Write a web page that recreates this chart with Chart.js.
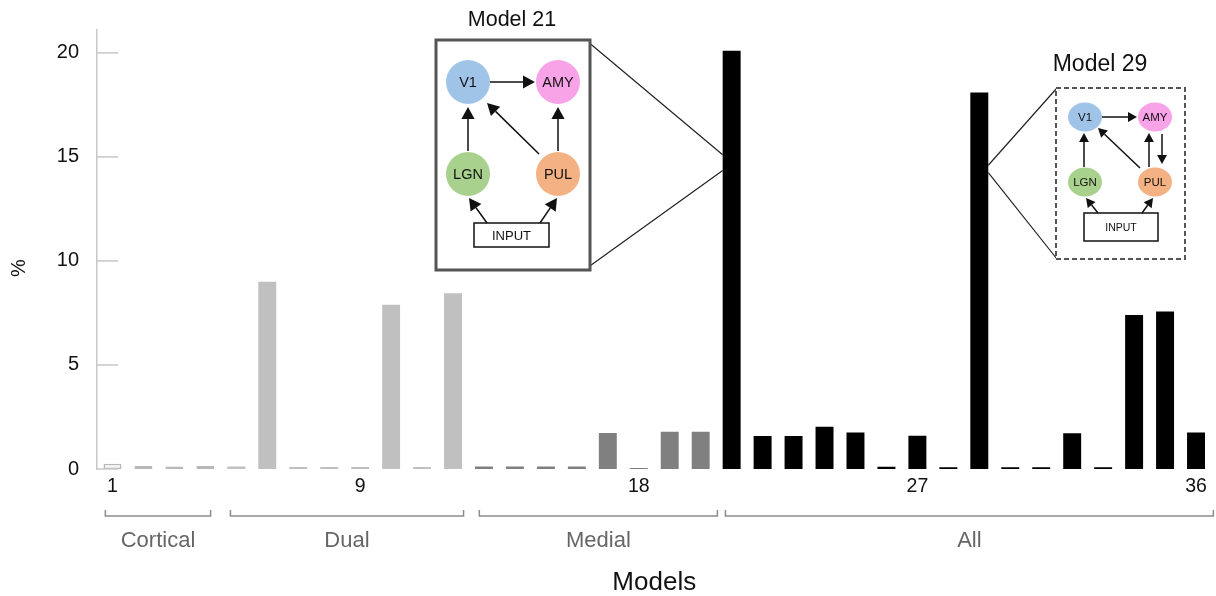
<!DOCTYPE html>
<html>
<head>
<meta charset="utf-8">
<script src="https://cdn.jsdelivr.net/npm/chart.js@4.4.1/dist/chart.umd.min.js"></script>
<style>
    html, body { margin: 0; padding: 0; background: #fff; }
    #wrap { width: 1216px; height: 596px; position: relative; }
</style>
</head>
<body>
<div id="wrap"><canvas id="models-chart"></canvas></div>
<script>
// values, % per model
const corticalValues = [0.25, 0.15, 0.12, 0.15];
const dualValues = [0.12, 9.0, 0.1, 0.1, 0.1, 7.9, 0.1, 8.45];
const medialValues = [0.12, 0.12, 0.12, 0.12, 1.73, 0.05, 1.79, 1.79];
const allValues = [20.1, 1.59, 1.59, 2.03, 1.76, 0.11, 1.6, 0.08, 18.1, 0.08, 0.08, 1.72, 0.08, 7.4, 7.57, 1.76];

const groupNames = ['Cortical', 'Dual', 'Medial', 'All'];
const shownTicks = ['1', '9', '18', '27', '36'];
const yTicks = [0, 5, 10, 15, 20];

const groupFills = ['#f3f3f3', '#c0c0c0', '#808080', '#000000'];
const groupBorders = ['#b8b8b8', '#c0c0c0', '#808080', '#000000'];
// bracket extents, in category units (start, end)
const bracketSpans = [[-0.23, 3.17], [3.81, 11.34], [11.85, 19.54], [19.8, 35.56]];

const groups = [corticalValues, dualValues, medialValues, allValues];
const values = groups.flat();
const labels = values.map((v, i) => String(i + 1));
const groupOf = groups.flatMap((g, gi) => g.map(() => gi));

const FONT = "'Liberation Sans', Arial, sans-serif";

function arrow(ctx, x1, y1, x2, y2, head) {
    const a = Math.atan2(y2 - y1, x2 - x1);
    const bx = x2 - head * Math.cos(a);
    const by = y2 - head * Math.sin(a);
    const w = head * 0.55;
    ctx.beginPath();
    ctx.moveTo(x1, y1);
    ctx.lineTo(bx, by);
    ctx.stroke();
    ctx.beginPath();
    ctx.moveTo(x2, y2);
    ctx.lineTo(bx + w * Math.sin(a), by - w * Math.cos(a));
    ctx.lineTo(bx - w * Math.sin(a), by + w * Math.cos(a));
    ctx.closePath();
    ctx.fill();
}

function node(ctx, x, y, rx, ry, color, text, size) {
    ctx.fillStyle = color;
    ctx.beginPath();
    ctx.ellipse(x, y, rx, ry, 0, 0, Math.PI * 2);
    ctx.fill();
    ctx.fillStyle = '#111';
    ctx.font = size + 'px ' + FONT;
    ctx.textAlign = 'center';
    ctx.textBaseline = 'middle';
    ctx.fillText(text, x, y + 1);
}

const inset21 = {
    box: [436, 40, 154, 230], title: 'Model 21', titlePos: [512, 20], titleSize: 21.5,
    r: [22, 22], nodeSize: 14.5, inputSize: 13, head: 12,
    V1: [468, 82], AMY: [558, 82], LGN: [468, 174], PUL: [558, 174],
    input: [474, 223, 75, 24],
    arrows: [
        [490, 82, 535, 82], [468, 151, 468, 107], [558, 151, 558, 107],
        [539, 154, 487, 103], [487, 223, 469, 198], [540, 223, 557, 198],
    ],
};
const inset29 = {
    box: [1056, 88, 129, 171], title: 'Model 29', titlePos: [1100, 65], titleSize: 23,
    r: [17, 14.5], nodeSize: 11.5, inputSize: 10.5, head: 9,
    V1: [1085, 117], AMY: [1155, 117], LGN: [1085, 182], PUL: [1155, 182],
    input: [1084, 213, 74, 28],
    arrows: [
        [1102, 117, 1137, 117], [1084, 167, 1084, 133], [1149, 167, 1149, 133],
        [1162, 134, 1162, 164], [1140, 168, 1098, 128], [1098, 213, 1086, 198],
        [1142, 213, 1153, 198],
    ],
};

function drawInset(ctx, d, dashed) {
    const [bx, by, bw, bh] = d.box;
    ctx.save();
    ctx.fillStyle = '#fff';
    ctx.fillRect(bx, by, bw, bh);
    ctx.strokeStyle = '#555';
    ctx.lineWidth = dashed ? 2 : 3;
    ctx.setLineDash(dashed ? [5, 3] : []);
    ctx.strokeRect(bx, by, bw, bh);
    ctx.setLineDash([]);

    ctx.fillStyle = '#111';
    ctx.font = d.titleSize + 'px ' + FONT;
    ctx.textAlign = 'center';
    ctx.textBaseline = 'middle';
    ctx.fillText(d.title, d.titlePos[0], d.titlePos[1]);

    node(ctx, d.V1[0], d.V1[1], d.r[0], d.r[1], '#a0c4e8', 'V1', d.nodeSize);
    node(ctx, d.AMY[0], d.AMY[1], d.r[0], d.r[1], '#f8a2e8', 'AMY', d.nodeSize);
    node(ctx, d.LGN[0], d.LGN[1], d.r[0], d.r[1], '#a9d18e', 'LGN', d.nodeSize);
    node(ctx, d.PUL[0], d.PUL[1], d.r[0], d.r[1], '#f4b183', 'PUL', d.nodeSize);

    const [ix, iy, iw, ih] = d.input;
    ctx.strokeStyle = '#111';
    ctx.lineWidth = 1.5;
    ctx.strokeRect(ix, iy, iw, ih);
    ctx.fillStyle = '#111';
    ctx.font = d.inputSize + 'px ' + FONT;
    ctx.fillText('INPUT', ix + iw / 2, iy + ih / 2 + 1);

    ctx.lineWidth = 1.5;
    d.arrows.forEach(([x1, y1, x2, y2]) => arrow(ctx, x1, y1, x2, y2, d.head));
    ctx.restore();
}

const decorations = {
    id: 'decorations',
    afterDraw(chart) {
        const { ctx, chartArea, scales } = chart;
        const x = scales.x;
        const y = scales.y;
        ctx.save();

        // y tick marks pointing into the plot
        ctx.strokeStyle = '#c8c8c8';
        ctx.lineWidth = 1.5;
        yTicks.forEach((v) => {
            const py = y.getPixelForValue(v);
            ctx.beginPath();
            ctx.moveTo(chartArea.left, py);
            ctx.lineTo(chartArea.left + 21, py);
            ctx.stroke();
        });

        // axis name, sideways, a bit below the middle like the original
        ctx.save();
        ctx.translate(19, 268);
        ctx.rotate(-Math.PI / 2);
        ctx.fillStyle = '#111';
        ctx.font = '20px ' + FONT;
        ctx.textAlign = 'center';
        ctx.textBaseline = 'middle';
        ctx.fillText('%', 0, 0);
        ctx.restore();

        // group brackets and names
        ctx.strokeStyle = '#8c8c8c';
        ctx.lineWidth = 1.5;
        ctx.fillStyle = '#666';
        ctx.font = '22px ' + FONT;
        ctx.textAlign = 'center';
        ctx.textBaseline = 'middle';
        bracketSpans.forEach(([s, e], gi) => {
            const x1 = x.getPixelForValue(s);
            const x2 = x.getPixelForValue(e);
            ctx.beginPath();
            ctx.moveTo(x1, 510);
            ctx.lineTo(x1, 516);
            ctx.lineTo(x2, 516);
            ctx.lineTo(x2, 510);
            ctx.stroke();
            ctx.fillText(groupNames[gi], (x1 + x2) / 2, 541);
        });

        // zoom lines from the two highlighted bars
        const bars = chart.getDatasetMeta(0).data;
        const b21 = bars[20];
        const b29 = bars[28];
        ctx.strokeStyle = '#222';
        ctx.lineWidth = 1.2;
        const l21 = b21.x - b21.width / 2;
        ctx.beginPath();
        ctx.moveTo(587, 41);
        ctx.lineTo(l21, y.getPixelForValue(15.1));
        ctx.moveTo(587, 268);
        ctx.lineTo(l21, y.getPixelForValue(14.35));
        ctx.stroke();
        const r29 = b29.x + b29.width / 2;
        ctx.beginPath();
        ctx.moveTo(r29, y.getPixelForValue(14.6));
        ctx.lineTo(1057, 88);
        ctx.moveTo(r29, y.getPixelForValue(14.25));
        ctx.lineTo(1057, 259);
        ctx.stroke();
        ctx.restore();

        drawInset(ctx, inset21, false);
        drawInset(ctx, inset29, true);
    },
};

Chart.defaults.font.family = FONT;

// eslint-disable-next-line no-undef
new Chart(document.getElementById('models-chart'), {
    type: 'bar',
    data: {
        labels: labels,
        datasets: [
            {
                data: values,
                backgroundColor: groupOf.map((g) => groupFills[g]),
                borderColor: groupOf.map((g) => groupBorders[g]),
                borderWidth: groupOf.map((g) => (g === 0 ? 1.5 : 0)),
                borderSkipped: false,
                barPercentage: 0.58,
                categoryPercentage: 1,
            },
        ],
    },
    options: {
        responsive: true,
        maintainAspectRatio: false,
        animation: false,
        layout: { padding: { top: 27, right: 4.5, left: 0, bottom: 0 } },
        scales: {
            x: {
                offset: true,
                afterFit: (s) => { s.height = 127; },
                border: { display: false },
                grid: { display: false, drawTicks: false },
                ticks: {
                    autoSkip: false,
                    maxRotation: 0,
                    padding: 6,
                    color: '#111',
                    font: { size: 19.5 },
                    callback: (v, i) => (shownTicks.includes(labels[i]) ? labels[i] : ''),
                },
                title: {
                    display: true,
                    text: 'Models',
                    color: '#111',
                    font: { size: 26, lineHeight: 1.05 },
                    padding: { top: 0, bottom: 0 },
                },
            },
            y: {
                min: 0,
                max: 21.1,
                afterFit: (s) => { s.width = 97; },
                afterBuildTicks: (s) => { s.ticks = yTicks.map((v) => ({ value: v })); },
                border: { display: true, color: '#c8c8c8', width: 1.5 },
                grid: { display: false, drawTicks: false },
                ticks: {
                    padding: 18,
                    color: '#111',
                    font: { size: 20 },
                },
            },
        },
        plugins: {
            legend: { display: false },
            tooltip: { enabled: false },
        },
    },
    plugins: [decorations],
});
</script>
</body>
</html>
